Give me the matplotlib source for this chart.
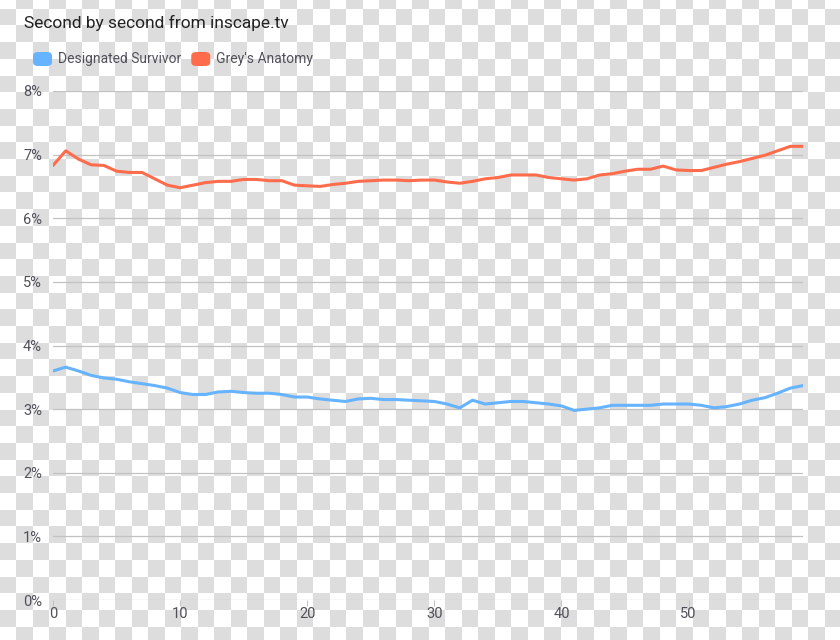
"""Second-by-second audience share: Designated Survivor vs Grey's Anatomy."""
import matplotlib
matplotlib.use("Agg")
import matplotlib.pyplot as plt
import numpy as np
from matplotlib.patches import FancyBboxPatch
from matplotlib.ticker import FuncFormatter, MultipleLocator

plt.rcParams["font.family"] = ["Roboto", "DejaVu Sans"]

TITLE = "Second by second from inscape.tv"
SERIES_NAMES = ["Designated Survivor", "Grey's Anatomy"]
SERIES_COLORS = ["#66b3ff", "#ff6c4c"]

seconds = list(range(60))

designated_survivor = [
    3.60, 3.66, 3.60, 3.53, 3.49, 3.47, 3.43, 3.40, 3.37, 3.33,
    3.26, 3.23, 3.23, 3.27, 3.28, 3.26, 3.25, 3.25, 3.23, 3.19,
    3.19, 3.16, 3.14, 3.12, 3.16, 3.17, 3.15, 3.15, 3.14, 3.13,
    3.12, 3.08, 3.02, 3.14, 3.08, 3.10, 3.12, 3.12, 3.10, 3.08,
    3.05, 2.98, 3.00, 3.02, 3.06, 3.06, 3.06, 3.06, 3.08, 3.08,
    3.08, 3.06, 3.02, 3.04, 3.08, 3.14, 3.18, 3.25, 3.33, 3.37,
]

greys_anatomy = [
    6.83, 7.06, 6.93, 6.84, 6.83, 6.74, 6.72, 6.72, 6.62, 6.52,
    6.48, 6.52, 6.56, 6.58, 6.58, 6.61, 6.61, 6.59, 6.59, 6.52,
    6.51, 6.50, 6.53, 6.55, 6.58, 6.59, 6.60, 6.60, 6.59, 6.60,
    6.60, 6.57, 6.55, 6.58, 6.62, 6.64, 6.68, 6.68, 6.68, 6.64,
    6.62, 6.60, 6.62, 6.68, 6.70, 6.74, 6.77, 6.77, 6.82, 6.76,
    6.75, 6.75, 6.80, 6.85, 6.89, 6.94, 6.99, 7.06, 7.13, 7.13,
]

W, H = 840, 640
fig = plt.figure(figsize=(W / 100, H / 100), dpi=100)

# transparent-background checkerboard, as in the source picture
yy, xx = np.indices((H, W))
col = np.floor((xx + 0.5) / 16.5).astype(int)
row = np.floor((yy - 8.3) / 16.7).astype(int) + 1
board = np.where((col + row) % 2 == 1, 0.867, 1.0)
fig.figimage(np.dstack([board] * 3), xo=0, yo=0, zorder=-10)

ax = fig.add_axes([53 / W, 1 - 600 / H, 750 / W, 509 / H])
ax.set_zorder(5)
ax.set_facecolor("none")

for vals, color in zip([designated_survivor, greys_anatomy], SERIES_COLORS):
    ax.plot(seconds, vals, color=color, lw=2.2, solid_joinstyle="round",
            solid_capstyle="round", zorder=3)

ax.set_xlim(0, 59)
ax.set_ylim(0, 8)
ax.yaxis.set_major_locator(MultipleLocator(1))
ax.xaxis.set_major_locator(MultipleLocator(10))
ax.yaxis.set_major_formatter(FuncFormatter(lambda v, _: f"{v:.0f}%"))
ax.grid(axis="y", color="#c2c2c2", lw=0.9)
ax.set_axisbelow(True)
for s in ax.spines.values():
    s.set_visible(False)
ax.tick_params(axis="y", length=0, pad=8, labelsize=10.5, labelcolor="#50505a")
ax.tick_params(axis="x", length=4, width=0.7, color="#c2c2c2", pad=1,
               labelsize=10.5, labelcolor="#50505a")

fig.text(24 / W, 1 - 28 / H, TITLE, fontsize=12.5, color="#222222",
         va="baseline", ha="left", zorder=6)

# legend with rounded swatches
x0 = 33
for name, color in zip(SERIES_NAMES, SERIES_COLORS):
    fig.patches.append(FancyBboxPatch(
        (x0 / W, 1 - 66 / H), 19 / W, 14 / H,
        boxstyle="round,pad=0,rounding_size=0.006",
        transform=fig.transFigure, fc=color, ec="none", zorder=6))
    t = fig.text((x0 + 25) / W, 1 - 59 / H, name, fontsize=10,
                 color="#50505a", va="center", ha="left", zorder=6)
    fig.canvas.draw()
    bb = t.get_window_extent()
    x0 = bb.x1 + 10

fig.savefig("out.png", dpi=100)
